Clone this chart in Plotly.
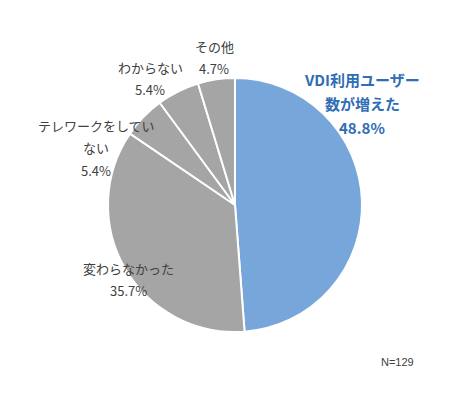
import plotly.graph_objects as go

categories = ["VDI利用ユーザー数が増えた", "変わらなかった", "テレワークをしていない", "わからない", "その他"]
values = [48.8, 35.7, 5.4, 5.4, 4.7]
colors = ["#77A6DA", "#A5A5A5", "#A5A5A5", "#A5A5A5", "#A5A5A5"]

# label lines per category (text only)
label_lines = [
    ["VDI利用ユーザー", "数が増えた", "48.8%"],
    ["変わらなかった", "35.7%"],
    ["テレワークをしてい", "ない", "5.4%"],
    ["わからない", "5.4%"],
    ["その他", "4.7%"],
]
note = "N=129"

W, H = 463, 395
OFF = 8  # page body margin


def px(x, y):
    return (x - OFF) / W, 1 - (y - OFF) / H


x0, y0 = px(108, 332)
x1, y1 = px(362, 78)

fig = go.Figure(go.Pie(
    labels=categories,
    values=values,
    sort=False,
    direction="clockwise",
    rotation=0,
    marker=dict(colors=colors, line=dict(color="white", width=2)),
    textinfo="none",
    hoverinfo="label+percent",
    domain=dict(x=[x0, x1], y=[y0, y1]),
    showlegend=False,
))

# label anchor positions (pixels: center x, first-line y) and line spacing
anchors = [(362, 80), (128, 268), (96, 125), (150, 67), (214, 47)]
spacing = [23.5, 22, 22.5, 22, 22]
font_family = "Noto Sans CJK JP, Noto Sans, sans-serif"

annotations = []
for i, lines in enumerate(label_lines):
    cx, cy = anchors[i]
    for j, line in enumerate(lines):
        ax, ay = px(cx, cy + j * spacing[i])
        if i == 0:
            fnt = dict(family=font_family, size=15, color="#2F6DB5")
            txt = "<b>" + line + "</b>"
        else:
            fnt = dict(family=font_family, size=13, color="#404040")
            txt = line
        annotations.append(dict(
            x=ax, y=ay, xref="paper", yref="paper",
            text=txt, showarrow=False, font=fnt,
            xanchor="center", yanchor="middle",
        ))

nx, ny = px(397, 362)
annotations.append(dict(
    x=nx, y=ny, xref="paper", yref="paper",
    text=note, showarrow=False,
    font=dict(family="Liberation Sans, Arial, sans-serif", size=11, color="#404040"),
    xanchor="center", yanchor="middle",
))

fig.update_layout(
    width=W, height=H,
    margin=dict(l=0, r=0, t=0, b=0),
    paper_bgcolor="white",
    plot_bgcolor="white",
    annotations=annotations,
)

fig.write_html("out.html")
